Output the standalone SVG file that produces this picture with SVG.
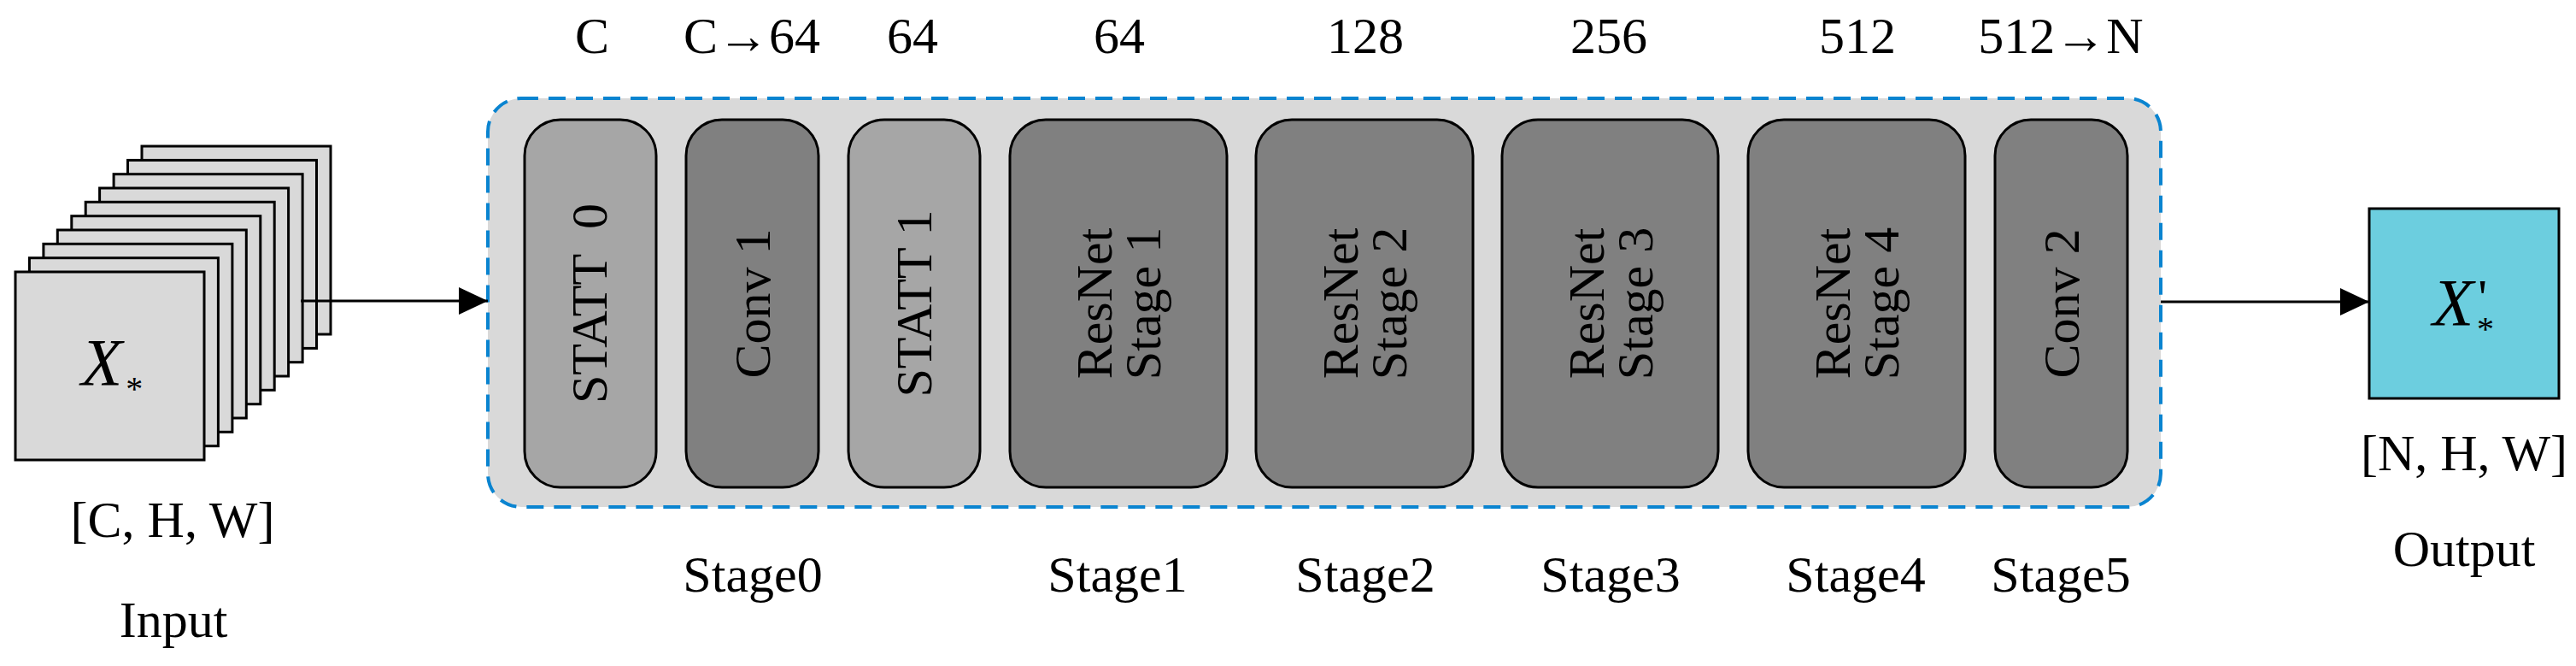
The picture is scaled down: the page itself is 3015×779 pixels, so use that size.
<svg xmlns="http://www.w3.org/2000/svg" width="3015" height="779" viewBox="0 0 3015 779">
<defs>
<marker id="ah" markerWidth="34" markerHeight="32" refX="34" refY="16" orient="auto" markerUnits="userSpaceOnUse">
<path d="M0,0 L34,16 L0,32 Z" fill="#000"/>
</marker>
</defs>
<style>
text{font-family:"Liberation Serif","Times New Roman",serif;fill:#000}
.lbl{font-size:60px;text-anchor:middle}
.bt{font-size:60px;text-anchor:middle;white-space:pre}
.sym{font-size:79px;font-style:italic}
.sub{font-style:normal;font-size:40px}
.pr{font-style:normal;font-size:60px}
.sheet{fill:#d9d9d9;stroke:#000;stroke-width:3}
.light{fill:#a6a6a6;stroke:#000;stroke-width:3}
.dark{fill:#808080;stroke:#000;stroke-width:3}
.conn{stroke:#000;stroke-width:3;fill:none;marker-end:url(#ah)}
</style>
<rect width="3015" height="779" fill="#fff"/>
<g id="input">
<rect class="sheet" x="166" y="171" width="221" height="220"/>
<rect class="sheet" x="149.5" y="187.4" width="221" height="220"/>
<rect class="sheet" x="133.1" y="203.7" width="221" height="220"/>
<rect class="sheet" x="116.6" y="220" width="221" height="220"/>
<rect class="sheet" x="100.2" y="236.3" width="221" height="220"/>
<rect class="sheet" x="83.8" y="252.7" width="221" height="220"/>
<rect class="sheet" x="67.3" y="269" width="221" height="220"/>
<rect class="sheet" x="50.9" y="285.3" width="221" height="220"/>
<rect class="sheet" x="34.4" y="301.7" width="221" height="220"/>
<rect class="sheet" x="18" y="318" width="221" height="220"/>
<text class="sym" x="95" y="450">X<tspan class="sub" dx="4" dy="18">*</tspan></text>
<text class="lbl" x="202" y="628">[C, H, W]</text>
<text class="lbl" x="203" y="745">Input</text>
</g>
<g id="backbone">
<rect x="571" y="115" width="1958" height="478" rx="39" ry="39" fill="#d9d9d9" stroke="#0a84d0" stroke-width="4" stroke-dasharray="20 12"/>
</g>
<g id="statt0"><rect class="light" x="614" y="140" width="154" height="430" rx="42"/><text class="bt" transform="translate(710,355) rotate(-90)">STATT  0</text></g>
<g id="conv1"><rect class="dark" x="803" y="140" width="155" height="430" rx="42"/><text class="bt" transform="translate(901,355) rotate(-90)">Conv 1</text></g>
<g id="statt1"><rect class="light" x="993" y="140" width="154" height="430" rx="42"/><text class="bt" transform="translate(1090,355) rotate(-90)">STATT 1</text></g>
<g id="res1"><rect class="dark" x="1182" y="140" width="254" height="430" rx="42"/><text class="bt" transform="translate(1301,355) rotate(-90)">ResNet</text><text class="bt" transform="translate(1358,355) rotate(-90)">Stage 1</text></g>
<g id="res2"><rect class="dark" x="1470" y="140" width="254" height="430" rx="42"/><text class="bt" transform="translate(1589,355) rotate(-90)">ResNet</text><text class="bt" transform="translate(1646,355) rotate(-90)">Stage 2</text></g>
<g id="res3"><rect class="dark" x="1758" y="140" width="253" height="430" rx="42"/><text class="bt" transform="translate(1877,355) rotate(-90)">ResNet</text><text class="bt" transform="translate(1934,355) rotate(-90)">Stage 3</text></g>
<g id="res4"><rect class="dark" x="2046" y="140" width="254" height="430" rx="42"/><text class="bt" transform="translate(2165,355) rotate(-90)">ResNet</text><text class="bt" transform="translate(2222,355) rotate(-90)">Stage 4</text></g>
<g id="conv2"><rect class="dark" x="2335" y="140" width="155" height="430" rx="42"/><text class="bt" transform="translate(2433,355) rotate(-90)">Conv 2</text></g>
<g id="channels">
<text class="lbl" x="693" y="62">C</text>
<text class="lbl" x="880" y="62">C→64</text>
<text class="lbl" x="1068" y="62">64</text>
<text class="lbl" x="1310" y="62">64</text>
<text class="lbl" x="1598" y="62">128</text>
<text class="lbl" x="1883" y="62">256</text>
<text class="lbl" x="2174" y="62">512</text>
<text class="lbl" x="2412" y="62">512→N</text>
</g>
<g id="stages">
<text class="lbl" x="881" y="692">Stage0</text>
<text class="lbl" x="1308" y="692">Stage1</text>
<text class="lbl" x="1598" y="692">Stage2</text>
<text class="lbl" x="1885" y="692">Stage3</text>
<text class="lbl" x="2172" y="692">Stage4</text>
<text class="lbl" x="2412" y="692">Stage5</text>
</g>
<g id="output">
<rect x="2773" y="244" width="222" height="222" fill="#6ccedf" stroke="#000" stroke-width="3"/>
<text class="sym" x="2847" y="380">X<tspan class="pr" dx="5" dy="-12">'</tspan><tspan class="sub" dx="-12" dy="30">*</tspan></text>
<text class="lbl" x="2884" y="550">[N, H, W]</text>
<text class="lbl" x="2884" y="662">Output</text>
</g>
<g id="connectors">
<line class="conn" x1="352" y1="352" x2="571" y2="352"/>
<line class="conn" x1="2529" y1="353" x2="2773" y2="353"/>
</g>
</svg>
